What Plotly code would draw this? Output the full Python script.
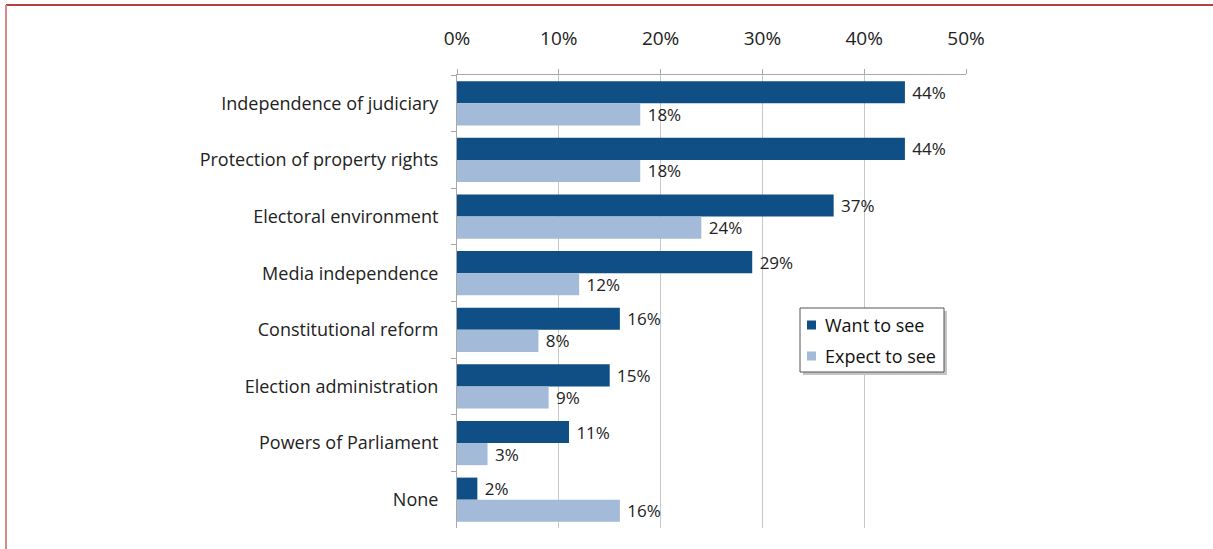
import plotly.graph_objects as go

categories = ["Independence of judiciary", "Protection of property rights", "Electoral environment",
              "Media independence", "Constitutional reform", "Election administration",
              "Powers of Parliament", "None"]
want_to_see = [44, 44, 37, 29, 16, 15, 11, 2]
expect_to_see = [18, 18, 24, 12, 8, 9, 3, 16]
series_names = ["Want to see", "Expect to see"]
tick_vals = [0, 10, 20, 30, 40, 50]
tick_text = ["0%", "10%", "20%", "30%", "40%", "50%"]

W, H = 1213, 549
L, R, T, B = 457, 247, 75, 21
pw, ph = W - L - R, H - T - B

def px(x):
    return (x - L) / pw

def py(y):
    return (H - B - y) / ph

FONT = "Open Sans"
DARK = "#0F4F85"
LIGHT = "#A3BAD8"
colors = [DARK, LIGHT]

fig = go.Figure()
for name, vals, col in zip(series_names, [want_to_see, expect_to_see], colors):
    fig.add_trace(go.Bar(y=categories, x=vals, orientation="h", name=name,
                         marker=dict(color=col, line=dict(width=0)),
                         texttemplate=" %{x}%", textposition="outside", cliponaxis=False,
                         constraintext="none",
                         textfont=dict(size=17, color="#222222", family=FONT)))

shapes = [
    # frame lines
    dict(type="line", xref="paper", yref="paper", x0=px(6), x1=px(1213), y0=py(5), y1=py(5),
         line=dict(color="#B5403F", width=2)),
    dict(type="line", xref="paper", yref="paper", x0=px(6), x1=px(6), y0=py(5), y1=py(549),
         line=dict(color="#D48A8A", width=2)),
    # legend shadow and box
    dict(type="rect", xref="paper", yref="paper", x0=px(803), x1=px(947), y0=py(375), y1=py(311),
         fillcolor="#C4C4C4", line=dict(width=0), layer="above"),
    dict(type="rect", xref="paper", yref="paper", x0=px(800), x1=px(944), y0=py(372), y1=py(308),
         fillcolor="white", line=dict(color="#555555", width=1), layer="above"),
]
annotations = []
for i, (name, col) in enumerate(zip(series_names, colors)):
    cy = 325 + 31 * i
    shapes.append(dict(type="rect", xref="paper", yref="paper", x0=px(807), x1=px(816),
                       y0=py(cy + 4.5), y1=py(cy - 4.5), fillcolor=col, line=dict(width=0),
                       layer="above"))
    annotations.append(dict(xref="paper", yref="paper", x=px(823), y=py(cy), text=name,
                            showarrow=False, xanchor="left", yanchor="middle",
                            font=dict(size=18, family=FONT, color="#111111")))

fig.update_layout(
    width=W, height=H,
    margin=dict(l=L, r=R, t=T, b=B, autoexpand=False),
    paper_bgcolor="white", plot_bgcolor="white",
    barmode="group", bargap=0.22, bargroupgap=0,
    font=dict(family=FONT, color="#222222", size=16),
    shapes=shapes, annotations=annotations,
    showlegend=False,
    xaxis=dict(side="top", range=[0, 50], tickvals=tick_vals, ticktext=tick_text,
               showgrid=True, gridcolor="#C8C8C8", gridwidth=1,
               showline=True, linecolor="#A8A8A8", linewidth=1,
               ticks="outside", ticklen=5, tickcolor="#A8A8A8",
               ticklabelstandoff=16, tickfont=dict(size=19, family=FONT, color="#222222"),
               zeroline=False, fixedrange=True),
    yaxis=dict(autorange="reversed", showline=True, linecolor="#A8A8A8", linewidth=1,
               ticks="outside", ticklen=5, tickcolor="#A8A8A8", tickson="boundaries",
               ticklabelstandoff=14, tickfont=dict(size=18, family=FONT, color="#222222"),
               showgrid=False, fixedrange=True),
)

fig.write_html("out.html", config={"displayModeBar": False},
               post_script="document.body.style.margin='0';document.body.style.overflow='hidden';")
